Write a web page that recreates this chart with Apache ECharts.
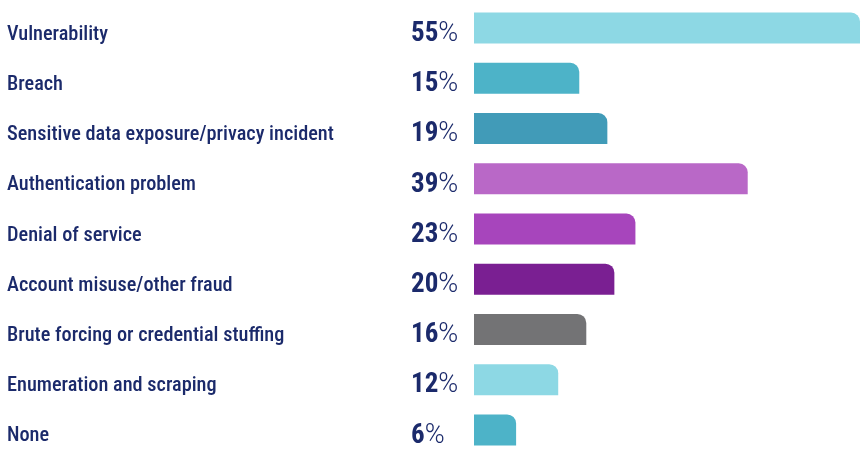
<!DOCTYPE html>
<html><head><meta charset="utf-8">
<script src="https://cdn.jsdelivr.net/npm/echarts@6/dist/echarts.min.js"></script>
<style>html,body{margin:0;padding:0;background:#fff}#c{width:868px;height:455px}</style>
</head><body><div id="c"></div>
<script>
const categories = ["Vulnerability","Breach","Sensitive data exposure/privacy incident","Authentication problem","Denial of service","Account misuse/other fraud","Brute forcing or credential stuffing","Enumeration and scraping","None"];
const values = [55,15,19,39,23,20,16,12,6];
const colors = ["#8dd8e4","#4db3c8","#419bb8","#b968c7","#a745bc","#7a1f92","#737375","#8dd8e4","#4db3c8"];
const FONT = 'Roboto';
const NAVY = '#1b2a6b';
const chart = echarts.init(document.getElementById('c'), null, {renderer:'canvas'});
chart.setOption({
  animation:false,
  grid:{left:474, right:8, top:3, height:455},
  xAxis:{type:'value', min:0, max:55, show:false},
  yAxis:[{
    type:'category', data:categories, inverse:true,
    axisLine:{show:false}, axisTick:{show:false},
    axisLabel:{align:'left', margin:467, padding:[13,0,0,0],
      formatter:function(v){return '{c|'+v+'}';},
      rich:{c:{color:NAVY, fontFamily:FONT, fontWeight:'500 condensed', fontSize:20.3}}}
  },{
    type:'category', data:categories, inverse:true, position:'left', offset:0,
    axisLine:{show:false}, axisTick:{show:false},
    axisLabel:{align:'left', margin:63, padding:[12,0,0,0],
      formatter:function(v,i){return '{n|'+values[i]+'}{p|%}';},
      rich:{n:{fontFamily:FONT,fontWeight:'bold condensed',fontSize:27,color:NAVY},
            p:{fontFamily:FONT,fontWeight:'300',fontSize:27,color:NAVY}}}
  }],
  series:[{
    type:'bar', barWidth:31,
    data:values.map((v,i)=>({value:v,itemStyle:{color:colors[i]}})),
    itemStyle:{borderRadius:[0,9,0,0]}
  }]
});
</script></body></html>
